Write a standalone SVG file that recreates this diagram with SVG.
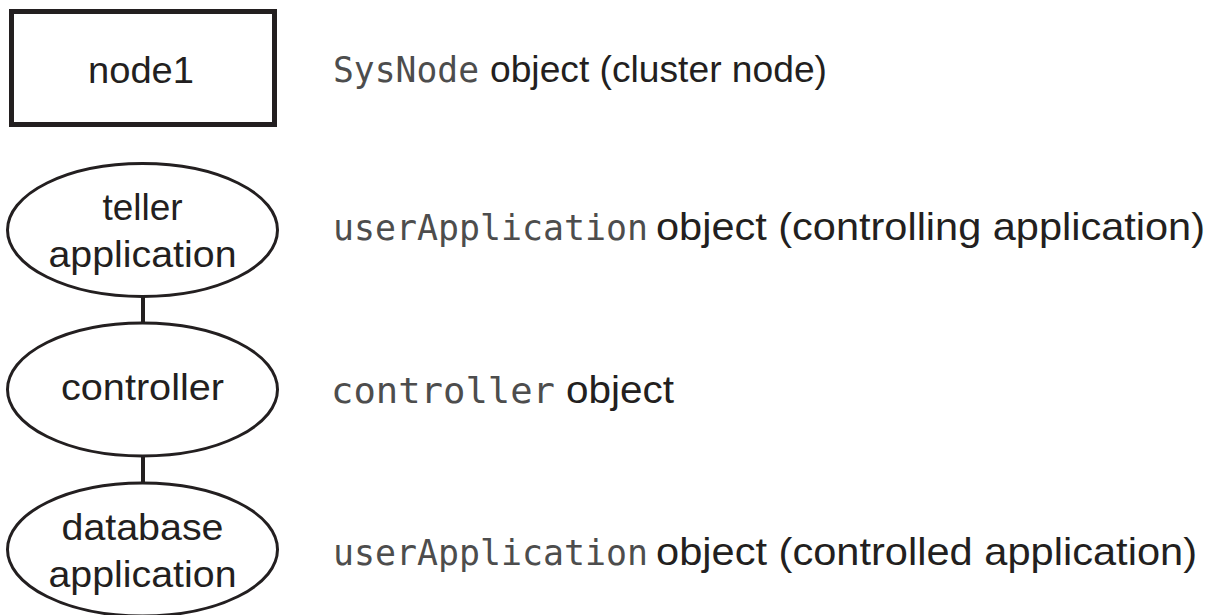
<svg xmlns="http://www.w3.org/2000/svg" width="1218" height="615" viewBox="0 0 1218 615">
<style>
.shape{fill:#fff;stroke:#231f20;}
.lbl{font-family:"Liberation Sans",Arial,sans-serif;fill:#231f20;text-anchor:middle;font-size:37px;}
.sans{font-family:"Liberation Sans",Arial,sans-serif;fill:#231f20;}
.mono{font-family:"DejaVu Sans Mono",monospace;fill:#4d4d4d;font-size:36px;}
.edge{stroke:#231f20;stroke-width:4;fill:none;}
</style>
<rect width="1218" height="615" fill="#fff"/>
<g id="connectors">
<line class="edge" x1="143" y1="297" x2="143" y2="323"/>
<line class="edge" x1="143" y1="456" x2="143" y2="483"/>
</g>
<g id="node1">
<rect class="shape" x="11.5" y="11.5" width="263" height="113" stroke-width="5"/>
<text class="lbl" x="141" y="83" textLength="106" lengthAdjust="spacingAndGlyphs">node1</text>
</g>
<g id="teller">
<ellipse class="shape" cx="142.5" cy="230" rx="135" ry="66.5" stroke-width="3"/>
<text class="lbl" x="142.5" y="220">teller</text>
<text class="lbl" x="142.5" y="267" textLength="188" lengthAdjust="spacingAndGlyphs">application</text>
</g>
<g id="controller">
<ellipse class="shape" cx="142.5" cy="389.5" rx="135" ry="66.5" stroke-width="3"/>
<text class="lbl" x="142.5" y="400" textLength="163" lengthAdjust="spacingAndGlyphs">controller</text>
</g>
<g id="database">
<ellipse class="shape" cx="142.5" cy="549.5" rx="135" ry="66.5" stroke-width="3"/>
<text class="lbl" x="142.5" y="540" textLength="162" lengthAdjust="spacingAndGlyphs">database</text>
<text class="lbl" x="142.5" y="587" textLength="188" lengthAdjust="spacingAndGlyphs">application</text>
</g>
<g id="legend">
<text class="mono" x="333" y="82" textLength="146" lengthAdjust="spacingAndGlyphs">SysNode</text>
<text class="sans" x="490" y="82" font-size="37" textLength="337" lengthAdjust="spacingAndGlyphs">object (cluster node)</text>
<text class="mono" x="333" y="240" textLength="315" lengthAdjust="spacingAndGlyphs">userApplication</text>
<text class="sans" x="656" y="240" font-size="39" textLength="549" lengthAdjust="spacingAndGlyphs">object (controlling application)</text>
<text class="mono" x="331" y="403" textLength="224" lengthAdjust="spacingAndGlyphs">controller</text>
<text class="sans" x="566" y="403" font-size="38" textLength="108" lengthAdjust="spacingAndGlyphs">object</text>
<text class="mono" x="333" y="565" textLength="315" lengthAdjust="spacingAndGlyphs">userApplication</text>
<text class="sans" x="656" y="565" font-size="39" textLength="541" lengthAdjust="spacingAndGlyphs">object (controlled application)</text>
</g>
</svg>
